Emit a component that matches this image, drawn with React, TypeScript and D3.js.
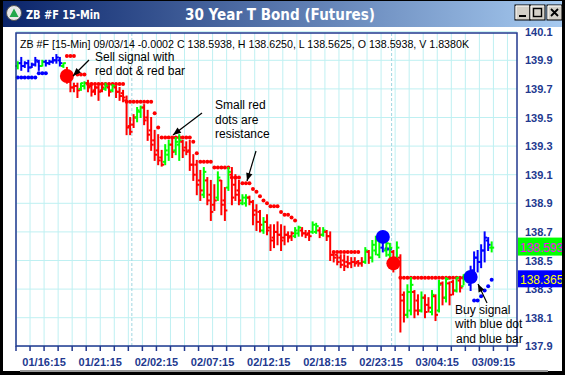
import * as d3 from 'd3'

// ---- bar data (15-min OHLC) ----
const highs = [
  139.89, 139.92, 139.89, 139.90, 139.88, 139.92, 139.90, 139.90, 139.90, 139.90,
  139.92, 139.94, 139.92, 139.88, 139.85, 139.78, 139.74, 139.74, 139.74, 139.75,
  139.76, 139.74, 139.72, 139.72, 139.74, 139.74, 139.72, 139.73, 139.72, 139.71,
  139.69, 139.65, 139.50, 139.52, 139.57, 139.58, 139.59, 139.55, 139.50, 139.41,
  139.38, 139.27, 139.31, 139.34, 139.36, 139.36, 139.38, 139.34, 139.33, 139.34,
  139.24, 139.20, 139.13, 139.15, 139.08, 139.06, 139.03, 139.12, 139.06, 139.01,
  139.15, 139.15, 139.10, 139.06, 138.96, 138.96, 138.95, 138.92, 138.89, 138.85,
  138.80, 138.82, 138.75, 138.75, 138.77, 138.75, 138.74, 138.70, 138.70, 138.73,
  138.74, 138.73, 138.71, 138.71, 138.77, 138.76, 138.73, 138.73, 138.71, 138.70,
  138.55, 138.54, 138.54, 138.54, 138.53, 138.52, 138.52, 138.50, 138.52, 138.59,
  138.57, 138.64, 138.67, 138.66, 138.67, 138.64, 138.62, 138.57, 138.63, 138.54,
  138.28, 138.33, 138.38, 138.29, 138.26, 138.28, 138.26, 138.24, 138.29, 138.26,
  138.36, 138.35, 138.38, 138.35, 138.36, 138.38, 138.37, 138.40, 138.42, 138.46,
  138.56, 138.57, 138.61, 138.70, 138.66, 138.63,
]
const lows = [
  139.84, 139.83, 139.85, 139.82, 139.85, 139.86, 139.83, 139.86, 139.86, 139.87,
  139.88, 139.88, 139.86, 139.85, 139.74, 139.68, 139.68, 139.64, 139.69, 139.70,
  139.68, 139.65, 139.66, 139.62, 139.68, 139.69, 139.65, 139.68, 139.64, 139.62,
  139.61, 139.38, 139.38, 139.43, 139.47, 139.50, 139.45, 139.34, 139.27, 139.20,
  139.17, 139.16, 139.17, 139.20, 139.22, 139.24, 139.20, 139.22, 139.24, 139.13,
  139.06, 138.96, 138.92, 138.94, 138.89, 138.78, 138.85, 138.92, 138.82, 138.78,
  138.99, 138.89, 138.92, 138.89, 138.89, 138.88, 138.89, 138.75, 138.71, 138.70,
  138.69, 138.68, 138.57, 138.59, 138.61, 138.57, 138.61, 138.63, 138.64, 138.66,
  138.67, 138.67, 138.66, 138.64, 138.69, 138.69, 138.66, 138.67, 138.64, 138.50,
  138.49, 138.47, 138.45, 138.43, 138.45, 138.45, 138.46, 138.46, 138.46, 138.48,
  138.48, 138.49, 138.54, 138.52, 138.56, 138.53, 138.52, 138.42, 138.49, 138.00,
  138.07, 138.10, 138.12, 138.10, 138.12, 138.14, 138.10, 138.14, 138.12, 138.08,
  138.14, 138.19, 138.21, 138.19, 138.26, 138.28, 138.28, 138.33, 138.35, 138.29,
  138.35, 138.42, 138.45, 138.49, 138.57, 138.56,
]
const opens = [
  139.86, 139.88, 139.86, 139.88, 139.85, 139.87, 139.89, 139.86, 139.89, 139.88,
  139.89, 139.90, 139.90, 139.86, 139.83, 139.75, 139.71, 139.72, 139.70, 139.72,
  139.74, 139.72, 139.69, 139.71, 139.69, 139.70, 139.71, 139.69, 139.71, 139.68,
  139.67, 139.62, 139.44, 139.45, 139.50, 139.54, 139.57, 139.50, 139.41, 139.34,
  139.27, 139.22, 139.19, 139.24, 139.31, 139.27, 139.31, 139.33, 139.29, 139.27,
  139.17, 139.17, 139.06, 138.96, 139.06, 138.96, 138.89, 138.94, 139.06, 138.92,
  139.01, 139.10, 139.03, 138.99, 138.90, 138.90, 138.94, 138.91, 138.85, 138.84,
  138.71, 138.77, 138.73, 138.66, 138.70, 138.68, 138.66, 138.68, 138.67, 138.67,
  138.69, 138.71, 138.69, 138.69, 138.70, 138.70, 138.71, 138.68, 138.70, 138.67,
  138.54, 138.54, 138.52, 138.50, 138.49, 138.48, 138.49, 138.49, 138.48, 138.49,
  138.56, 138.52, 138.57, 138.54, 138.59, 138.57, 138.54, 138.56, 138.50, 138.52,
  138.26, 138.12, 138.15, 138.28, 138.22, 138.15, 138.24, 138.19, 138.14, 138.25,
  138.15, 138.34, 138.24, 138.34, 138.35, 138.29, 138.36, 138.32, 138.37, 138.33,
  138.43, 138.52, 138.49, 138.57, 138.64, 138.59,
]
const closes = [
  139.88, 139.86, 139.88, 139.85, 139.87, 139.90, 139.86, 139.89, 139.88, 139.89,
  139.90, 139.92, 139.88, 139.88, 139.76, 139.71, 139.72, 139.69, 139.74, 139.74,
  139.71, 139.68, 139.71, 139.68, 139.71, 139.72, 139.68, 139.72, 139.68, 139.65,
  139.64, 139.43, 139.40, 139.50, 139.55, 139.57, 139.48, 139.38, 139.31, 139.24,
  139.20, 139.17, 139.27, 139.31, 139.26, 139.33, 139.34, 139.27, 139.26, 139.17,
  139.10, 139.03, 138.99, 139.12, 138.92, 138.84, 138.92, 139.08, 138.89, 138.85,
  139.12, 138.94, 138.96, 138.92, 138.94, 138.94, 138.91, 138.82, 138.77, 138.75,
  138.77, 138.71, 138.64, 138.70, 138.68, 138.64, 138.68, 138.66, 138.69, 138.71,
  138.73, 138.69, 138.68, 138.67, 138.75, 138.74, 138.68, 138.71, 138.67, 138.54,
  138.52, 138.49, 138.47, 138.46, 138.48, 138.49, 138.48, 138.48, 138.49, 138.57,
  138.52, 138.61, 138.64, 138.63, 138.64, 138.62, 138.59, 138.47, 138.59, 138.22,
  138.12, 138.28, 138.33, 138.15, 138.15, 138.24, 138.14, 138.17, 138.26, 138.12,
  138.33, 138.24, 138.37, 138.26, 138.29, 138.38, 138.31, 138.40, 138.42, 138.43,
  138.52, 138.49, 138.57, 138.66, 138.61, 138.59,
]
// B = uptrend bar, R = downtrend bar, G = up bar against the trend
const trend = (
  'GBBBBBBGBB' + 'BBBGRRRRGG' + 'RRRRRGRGRR' + 'RRRRGGRRRR' + 'RRGGRGGRRR' +
  'RRRGRRRGRR' + 'GRRRGGRRRR' + 'GRRRRRRRRG' + 'GRRRGGRGRR' + 'RRRRRRRRRG' +
  'RGGGBGGRGR' + 'RGGRRGRRGR' + 'GRGRRGRGGB' + 'BBBBBG'
).split('')

// stop dots: [first bar, last bar, level]
const resistanceRuns: [number, number, number][] = [
  [14, 16, 139.93], [17, 19, 139.80], [20, 30, 139.735], [31, 38, 139.61],
  [39, 39, 139.53], [40, 40, 139.43], [41, 49, 139.36], [50, 50, 139.33],
  [51, 51, 139.25], [52, 55, 139.19], [56, 60, 139.15], [61, 63, 139.08],
  [64, 66, 139.04], [67, 67, 139.0], [68, 68, 138.98], [69, 69, 138.95],
  [70, 70, 138.92], [71, 71, 138.9], [72, 74, 138.88], [75, 75, 138.84],
  [76, 77, 138.82], [78, 78, 138.8], [79, 79, 138.78], [90, 97, 138.56],
  [109, 128, 138.38],
]
const supportRuns: [number, number, number][] = [
  [0, 5, 139.78], [6, 8, 139.81], [105, 106, 138.58], [130, 131, 138.22],
  [132, 132, 138.25], [133, 133, 138.29], [134, 134, 138.32], [135, 135, 138.365],
]

const signalIdx = [14, 104, 107, 129]
const signalPrice = [139.79, 138.665, 138.48, 138.385]
const signalSide = ['sell', 'buy', 'sell', 'buy']

const yTicks = [140.1, 139.9, 139.7, 139.5, 139.3, 139.1, 138.9, 138.7, 138.5, 138.3, 138.1, 137.9]
const xLabels = ['01/16:15', '01/21:15', '02/02:15', '02/07:15', '02/12:15', '02/18:15', '02/23:15', '03/04:15', '03/09:15']
const xLabelIdx = [8, 24, 40, 56, 72, 88, 104, 120, 136]
const sessionBreaks = [33, 107]

const lastClose = 138.5938
const stopLevel = 138.365

const barColor: Record<string, string> = { R: '#ff0000', G: '#00ff00', B: '#0000ff' }
const NAVY = '#22398f'
const GRID = '#bff0f2'
const ARIAL = "'Liberation Sans', Arial, sans-serif"

function arrowHead(x1: number, y1: number, x2: number, y2: number, len = 8, half = 3.2) {
  const a = Math.atan2(y2 - y1, x2 - x1)
  const bx = x2 - len * Math.cos(a)
  const by = y2 - len * Math.sin(a)
  const px = -Math.sin(a) * half
  const py = Math.cos(a) * half
  return `${x2},${y2} ${bx + px},${by + py} ${bx - px},${by - py}`
}

function Arrow({ x1, y1, x2, y2 }: { x1: number; y1: number; x2: number; y2: number }) {
  return (
    <g>
      <line x1={x1} y1={y1} x2={x2} y2={y2} stroke="#000" strokeWidth={1.2} />
      <polygon points={arrowHead(x1, y1, x2, y2)} fill="#000" />
    </g>
  )
}

function WinButton({ x, glyph }: { x: number; glyph: string }) {
  return (
    <g transform={`translate(${x},5)`}>
      <rect x={0} y={0} width={15} height={15} fill="#d4d0c8" stroke="#000" strokeWidth={1} />
      <line x1={1} y1={1} x2={14} y2={1} stroke="#fff" />
      <line x1={1} y1={1} x2={1} y2={14} stroke="#fff" />
      {glyph === 'min' && <rect x={4} y={10} width={7} height={2} fill="#000" />}
      {glyph === 'max' && <rect x={3.5} y={3.5} width={8} height={8} fill="none" stroke="#000" strokeWidth={1.4} />}
      {glyph === 'close' && (
        <path d="M4,4 L11,11 M11,4 L4,11" stroke="#000" strokeWidth={1.8} />
      )}
    </g>
  )
}

export default function App() {
  const width = 565
  const height = 375
  const frame = { left: 16, top: 33, right: 517, bottom: 346 }

  const x = d3.scaleLinear().domain([0, 143]).range([16, 518])
  const y = d3.scaleLinear().domain([137.9, 140.1]).range([346.3, 31.7])
  const cx = (i: number) => x(i + 0.5)

  const tickIdx = d3.range(0, 141, 4)

  const runDots = (runs: [number, number, number][]) =>
    runs.flatMap(([a, b, v]) => d3.range(a, b + 1).map(i => ({ i, v })))

  return (
    <svg width={width} height={height} style={{ position: 'absolute', left: 0, top: 0 }}>
      <defs>
        <linearGradient id="titleGrad" x1="0%" y1="0%" x2="100%" y2="0%">
          <stop offset="0%" stopColor="#0a246a" />
          <stop offset="100%" stopColor="#a6caf0" />
        </linearGradient>
      </defs>

      {/* window */}
      <rect x={0} y={0} width={width} height={height} fill="#000" />
      <rect x={3} y={1} width={559} height={26} fill="url(#titleGrad)" />
      <rect x={3} y={27} width={559} height={344} fill="#fff" />
      <rect x={20} y={370} width={528} height={2} fill="#9a9a9a" />

      {/* title bar */}
      <circle cx={14} cy={13} r={7.5} fill="#e8e8e8" stroke="#555" strokeWidth={1} />
      <polygon points="9.5,17 14,8.5 18.5,17" fill="#22a84a" />
      <text x={26} y={19} fill="#fff" fontFamily="'DejaVu Sans', Verdana, sans-serif" fontWeight="bold" fontSize={12} textLength={74} lengthAdjust="spacingAndGlyphs">ZB #F 15-Min</text>
      <text x={280} y={19.5} fill="#fff" fontFamily="'DejaVu Sans', Verdana, sans-serif" fontWeight="bold" fontSize={15} textAnchor="middle" textLength={190} lengthAdjust="spacingAndGlyphs">30 Year T Bond (Futures)</text>
      <WinButton x={515} glyph="min" />
      <WinButton x={530} glyph="max" />
      <WinButton x={547} glyph="close" />

      {/* grid */}
      {yTicks.map(t => (
        <line key={'gy' + t} x1={frame.left} x2={frame.right} y1={y(t)} y2={y(t)} stroke={GRID} strokeWidth={1} />
      ))}
      {tickIdx.map(t => (
        <line key={'gx' + t} x1={x(t)} x2={x(t)} y1={frame.top} y2={frame.bottom} stroke={GRID} strokeWidth={1} />
      ))}
      {sessionBreaks.map(t => (
        <line key={'sb' + t} x1={x(t)} x2={x(t)} y1={frame.top} y2={frame.bottom} stroke="#9fd6e0" strokeWidth={1} strokeDasharray="3,2" />
      ))}

      {/* info line */}
      <text x={20} y={48} fontFamily={ARIAL} fontSize={11} fill="#000" textLength={449} lengthAdjust="spacingAndGlyphs">
        ZB #F [15-Min] 09/03/14  -0.0002 C 138.5938, H 138.6250, L 138.5625, O 138.5938, V 1.8380K
      </text>

      {/* stop dots */}
      {runDots(resistanceRuns).map(d => (
        <circle key={'rd' + d.i} cx={cx(d.i)} cy={y(d.v)} r={2} fill="#ff0000" />
      ))}
      {runDots(supportRuns).map(d => (
        <circle key={'sd' + d.i} cx={cx(d.i)} cy={y(d.v)} r={2} fill="#0000ff" />
      ))}

      {/* OHLC bars */}
      {highs.map((h, i) => {
        const c = barColor[trend[i]] || '#ff0000'
        const px = cx(i)
        return (
          <g key={'b' + i} stroke={c} strokeWidth={2}>
            <line x1={px} x2={px} y1={y(h) - 0.5} y2={y(lows[i]) + 0.5} />
            <line x1={px - 2.5} x2={px} y1={y(opens[i])} y2={y(opens[i])} />
            <line x1={px} x2={px + 2.5} y1={y(closes[i])} y2={y(closes[i])} />
          </g>
        )
      })}

      {/* signal dots */}
      {signalIdx.map((s, k) => (
        <circle key={'sig' + k} cx={cx(s)} cy={y(signalPrice[k])} r={7} fill={signalSide[k] === 'sell' ? '#ff0000' : '#0000ff'} />
      ))}

      {/* frame */}
      <rect x={frame.left} y={frame.top} width={frame.right - frame.left} height={frame.bottom - frame.top} fill="none" stroke={NAVY} strokeWidth={1.5} />

      {/* x axis */}
      {tickIdx.map(t => (
        <line key={'xt' + t} x1={x(t)} x2={x(t)} y1={frame.bottom} y2={frame.bottom + 5} stroke={NAVY} strokeWidth={1.5} />
      ))}
      {xLabels.map((l, k) => (
        <text key={'xl' + l} x={x(xLabelIdx[k])} y={366} textAnchor="middle" fontFamily={ARIAL} fontWeight="bold" fontSize={11} fill={NAVY}>{l}</text>
      ))}

      {/* y axis */}
      {yTicks.map(t => (
        <text key={'yl' + t} x={525} y={y(t) + 4} fontFamily={ARIAL} fontWeight="bold" fontSize={11} fill={NAVY}>{t.toFixed(1)}</text>
      ))}

      {/* price boxes */}
      <rect x={518} y={y(lastClose) - 9.5} width={44} height={18} fill="#00ff00" />
      <text x={520} y={y(lastClose) + 4.5} fontFamily={ARIAL} fontSize={12} fill="#ff00ff">{lastClose.toFixed(4)}</text>
      <rect x={518} y={y(stopLevel) - 9.5} width={44} height={17} fill="#0000ff" />
      <text x={520} y={y(stopLevel) + 4.5} fontFamily={ARIAL} fontSize={12} fill="#ffff00">{stopLevel.toFixed(3)}</text>

      {/* annotations */}
      <g fontFamily={ARIAL} fontSize={12} fill="#000">
        <text x={95} y={61}>Sell signal with</text>
        <text x={95} y={75}>red dot &amp; red bar</text>
        <text x={215} y={109}>Small red</text>
        <text x={215} y={123.5}>dots are</text>
        <text x={215} y={138}>resistance</text>
        <text x={455} y={313.5}>Buy signal</text>
        <text x={455} y={328}>with blue dot</text>
        <text x={456} y={342.5}>and blue bar</text>
      </g>
      <Arrow x1={89} y1={60} x2={73} y2={76} />
      <Arrow x1={202} y1={113} x2={173} y2={135} />
      <Arrow x1={256} y1={151} x2={247} y2={181} />
      <Arrow x1={487} y1={303} x2={478} y2={284} />

      {/* right window edge over overflowing labels */}
      <rect x={562} y={0} width={3} height={height} fill="#000" />
    </svg>
  )
}
